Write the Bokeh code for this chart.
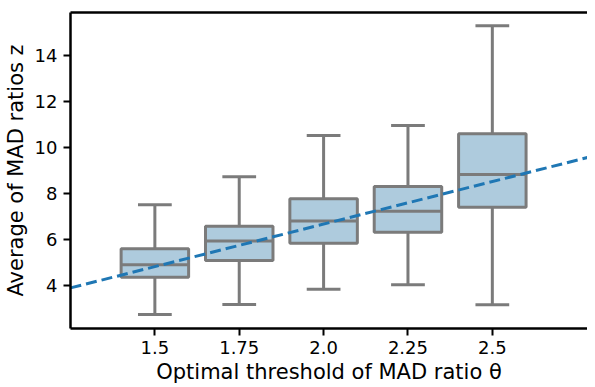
from bokeh.plotting import figure
from bokeh.models import Range1d, FixedTicker, LinearAxis, ColumnDataSource
from bokeh.embed import file_html
from bokeh.resources import INLINE

# Data
thresholds = [1.5, 1.75, 2.0, 2.25, 2.5]
tick_labels = ["1.5", "1.75", "2.0", "2.25", "2.5"]
whisker_low = [2.74, 3.17, 3.84, 4.03, 3.16]
q1 = [4.36, 5.09, 5.84, 6.32, 7.40]
median = [4.90, 5.93, 6.80, 7.23, 8.83]
q3 = [5.60, 6.58, 7.77, 8.30, 10.60]
whisker_high = [7.51, 8.73, 10.52, 10.96, 15.29]
fit_slope = 3.70
fit_intercept = -0.73

X0, X1 = 1.25, 2.782
Y0, Y1 = 2.13, 15.87
box_w = 0.2
cap_half = 0.05
edge = "#7b7b7b"
fill = "#aecbdd"
FONT = "DejaVu Sans"

p = figure(width=587, height=387, output_backend="svg", toolbar_location=None,
           x_range=Range1d(X0, X1), y_range=Range1d(Y0, Y1),
           min_border_left=63, min_border_top=12, min_border_right=0,
           min_border_bottom=59)
p.outline_line_color = None
p.grid.visible = False
p.background_fill_color = "white"
p.border_fill_color = "white"

src = ColumnDataSource(dict(x=thresholds, lo=whisker_low, q1=q1, med=median,
                            q3=q3, hi=whisker_high,
                            cl=[t - cap_half for t in thresholds],
                            cr=[t + cap_half for t in thresholds],
                            bl=[t - box_w / 2 for t in thresholds],
                            br=[t + box_w / 2 for t in thresholds]))

# whiskers
p.segment(x0="x", y0="q3", x1="x", y1="hi", source=src, line_color=edge, line_width=3)
p.segment(x0="x", y0="lo", x1="x", y1="q1", source=src, line_color=edge, line_width=3)
# caps
p.segment(x0="cl", y0="hi", x1="cr", y1="hi", source=src, line_color=edge, line_width=3)
p.segment(x0="cl", y0="lo", x1="cr", y1="lo", source=src, line_color=edge, line_width=3)
# boxes
p.vbar(x="x", width=box_w, bottom="q1", top="q3", source=src, fill_color=fill,
       line_color=edge, line_width=3)
# medians
p.segment(x0="bl", y0="med", x1="br", y1="med", source=src, line_color=edge, line_width=3)

# regression line
fx = [X0, X1]
fy = [fit_slope * v + fit_intercept for v in fx]
p.line(fx, fy, line_color="#1f77b4", line_width=3, line_dash="11 5")

for ax in (p.xaxis[0], p.yaxis[0]):
    ax.axis_line_color = "black"
    ax.axis_line_width = 2.5
    ax.major_tick_line_color = "black"
    ax.major_tick_line_width = 2
    ax.major_tick_out = 7
    ax.major_tick_in = 0
    ax.minor_tick_line_color = None
    ax.major_label_text_font = FONT
    ax.major_label_text_font_size = "18px"
    ax.major_label_text_color = "black"
    ax.axis_label_text_font = FONT
    ax.axis_label_text_font_size = "21px"
    ax.axis_label_text_font_style = "normal"
    ax.axis_label_text_color = "black"

p.xaxis[0].ticker = FixedTicker(ticks=thresholds)
p.xaxis[0].major_label_overrides = {t: l for t, l in zip(thresholds, tick_labels)}
p.xaxis[0].axis_label = "Optimal threshold of MAD ratio θ"
p.xaxis[0].major_label_standoff = 5
p.xaxis[0].axis_label_standoff = 3

p.yaxis[0].ticker = FixedTicker(ticks=[4, 6, 8, 10, 12, 14])
p.yaxis[0].axis_label = "Average of MAD ratios z"
p.yaxis[0].major_label_standoff = 6
p.yaxis[0].axis_label_standoff = 4

top = LinearAxis(ticker=FixedTicker(ticks=[]), axis_line_color="black",
                 axis_line_width=2.5, major_tick_line_color=None,
                 minor_tick_line_color=None, major_label_text_font_size="0px")
p.add_layout(top, "above")

open("out.html", "w").write(file_html(p, INLINE))
